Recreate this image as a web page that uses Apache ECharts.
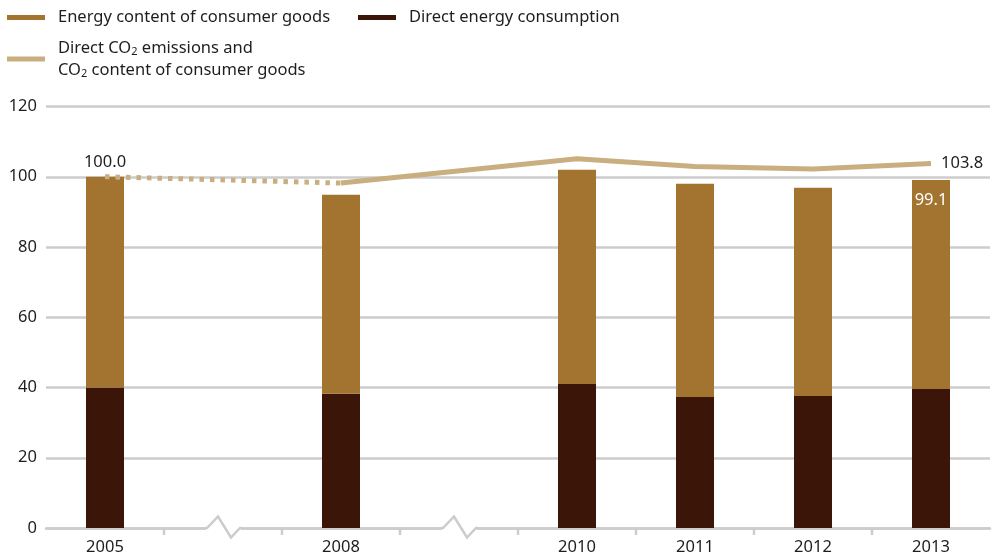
<!DOCTYPE html>
<html>
<head>
<meta charset="utf-8">
<script src="https://cdn.jsdelivr.net/npm/echarts@6/dist/echarts.min.js"></script>
<style>
  html, body { margin: 0; padding: 0; background: #fff; }
  #chart { width: 995px; height: 557px; }
</style>
</head>
<body>
<div id="chart"></div>
<script>
// categories, two empty slots stand for the skipped years
var categories = ["2005", "gap1", "2008", "gap2", "2010", "2011", "2012", "2013"];
var directEnergy = [40.0, null, 38.2, null, 41.0, 37.3, 37.6, 39.6];
var consumerGoods = [60.0, null, 56.7, null, 61.0, 60.7, 59.3, 59.5];
var co2Total = [100.0, null, 98.2, null, 105.1, 102.9, 102.2, 103.8];
var co2Labels = ["100.0", null, null, null, null, null, null, "103.8"];
var breakSlots = ["gap1", "gap2"];
var yTicks = [0, 20, 40, 60, 80, 100, 120];

var cGoods = "#a27430";
var cDirect = "#3c1509";
var cLine = "#c9ae80";
var cGrid = "#cccccc";
var txt = "#1e1e1e";
var font = "Noto Sans";

var chart = echarts.init(document.getElementById("chart"));

// dotted part 2005 -> 2008, solid part from 2008 on
var dottedData = co2Total.map(function (v, i) {
  if (i > 2 || v == null) return null;
  return {
    value: v,
    label: { show: co2Labels[i] != null, formatter: co2Labels[i] || "" }
  };
});
var solidData = co2Total.map(function (v, i) {
  if (i < 2 || v == null) return null;
  return {
    value: v,
    label: { show: co2Labels[i] != null && i > 2, formatter: co2Labels[i] || "" }
  };
});
var goodsData = consumerGoods.map(function (v, i) {
  var last = i === categories.length - 1;
  return {
    value: v,
    label: {
      show: last,
      formatter: last ? (v + directEnergy[i]).toFixed(1) : ""
    }
  };
});

var legendText = { color: txt, fontSize: 16.5, fontFamily: font, padding: [0, 0, 0, 8] };

var option = {
  animation: false,
  textStyle: { fontFamily: font },
  legend: [
    {
      left: 7, top: 9, padding: 0, icon: "rect", itemWidth: 38, itemHeight: 5,
      textStyle: legendText,
      data: ["Energy content of consumer goods"]
    },
    {
      left: 358, top: 9, padding: 0, icon: "rect", itemWidth: 38, itemHeight: 5,
      textStyle: legendText,
      data: ["Direct energy consumption"]
    },
    {
      left: 7, top: 37, padding: 0, icon: "rect", itemWidth: 38, itemHeight: 5,
      textStyle: {
        color: txt, fontSize: 16.5, fontFamily: font, lineHeight: 22, padding: [0, 0, 0, 8],
        rich: {
          sub: { fontSize: 11, fontFamily: font, color: txt, padding: [8, 0, 0, 0], lineHeight: 22 }
        }
      },
      formatter: function () {
        return "Direct CO{sub|2} emissions and\nCO{sub|2} content of consumer goods";
      },
      data: ["co2"]
    }
  ],
  grid: { left: 46, right: 5, top: 106.5, bottom: 29 },
  xAxis: {
    type: "category",
    data: categories,
    boundaryGap: true,
    axisLine: { lineStyle: { color: cGrid, width: 2.5 } },
    axisTick: { show: false },
    axisLabel: {
      color: txt, fontSize: 16.5, margin: 11,
      formatter: function (v) { return breakSlots.indexOf(v) >= 0 ? "" : v; }
    }
  },
  yAxis: {
    type: "value",
    min: yTicks[0],
    max: yTicks[yTicks.length - 1],
    interval: 20,
    axisLine: { show: false },
    axisTick: { show: false },
    axisLabel: { color: txt, fontSize: 16.5, margin: 9 },
    splitLine: { lineStyle: { color: cGrid, width: 2.5 } }
  },
  series: [
    {
      name: "Direct energy consumption",
      type: "bar",
      stack: "energy",
      barWidth: 38,
      itemStyle: { color: cDirect },
      data: directEnergy
    },
    {
      name: "Energy content of consumer goods",
      type: "bar",
      stack: "energy",
      barWidth: 38,
      itemStyle: { color: cGoods },
      label: { position: "insideTop", distance: 12, color: "#fff", fontSize: 16.5, fontFamily: font },
      data: goodsData
    },
    {
      name: "co2",
      type: "line",
      connectNulls: true,
      symbol: "circle",
      symbolSize: 0,
      showSymbol: true,
      z: 5,
      itemStyle: { color: cLine },
      lineStyle: { color: cLine, width: 5, type: [4.5, 6], cap: "butt" },
      label: { position: "top", distance: 6, color: txt, fontSize: 16.5, fontFamily: font },
      data: dottedData
    },
    {
      name: "co2",
      type: "line",
      connectNulls: true,
      symbol: "circle",
      symbolSize: 0,
      showSymbol: true,
      z: 5,
      itemStyle: { color: cLine },
      lineStyle: { color: cLine, width: 5 },
      label: { position: "right", distance: 10, color: txt, fontSize: 16.5, fontFamily: font },
      data: solidData
    },
    {
      // ticks only between categories, none at the two ends
      type: "custom",
      clip: false,
      silent: true,
      z: 3,
      data: categories.slice(1).map(function (c) { return [c, 0]; }),
      renderItem: function (params, api) {
        var p = api.coord([api.value(0), 0]);
        var x = p[0] - api.size([1, 0])[0] / 2;
        return {
          type: "line",
          shape: { x1: x, y1: p[1], x2: x, y2: p[1] + 7 },
          style: { stroke: cGrid, lineWidth: 2.5 }
        };
      }
    },
    {
      // axis break marks in the skipped slots
      type: "custom",
      clip: false,
      silent: true,
      z: 6,
      data: breakSlots.map(function (c) { return [c, 0]; }),
      renderItem: function (params, api) {
        var p = api.coord([api.value(0), 0]);
        var x = p[0], y = p[1];
        return {
          type: "group",
          children: [
            {
              type: "rect",
              shape: { x: x - 17, y: y - 3, width: 35, height: 6 },
              style: { fill: "#fff" }
            },
            {
              type: "polyline",
              shape: { points: [[x - 18, y], [x - 16, y], [x - 5, y - 11.5], [x + 8, y + 9.5], [x + 17, y], [x + 19, y]] },
              style: { stroke: cGrid, lineWidth: 2.5, fill: null }
            }
          ]
        };
      }
    }
  ]
};

chart.setOption(option);
window.addEventListener("resize", function () {
  chart.resize();
});
</script>
</body>
</html>
